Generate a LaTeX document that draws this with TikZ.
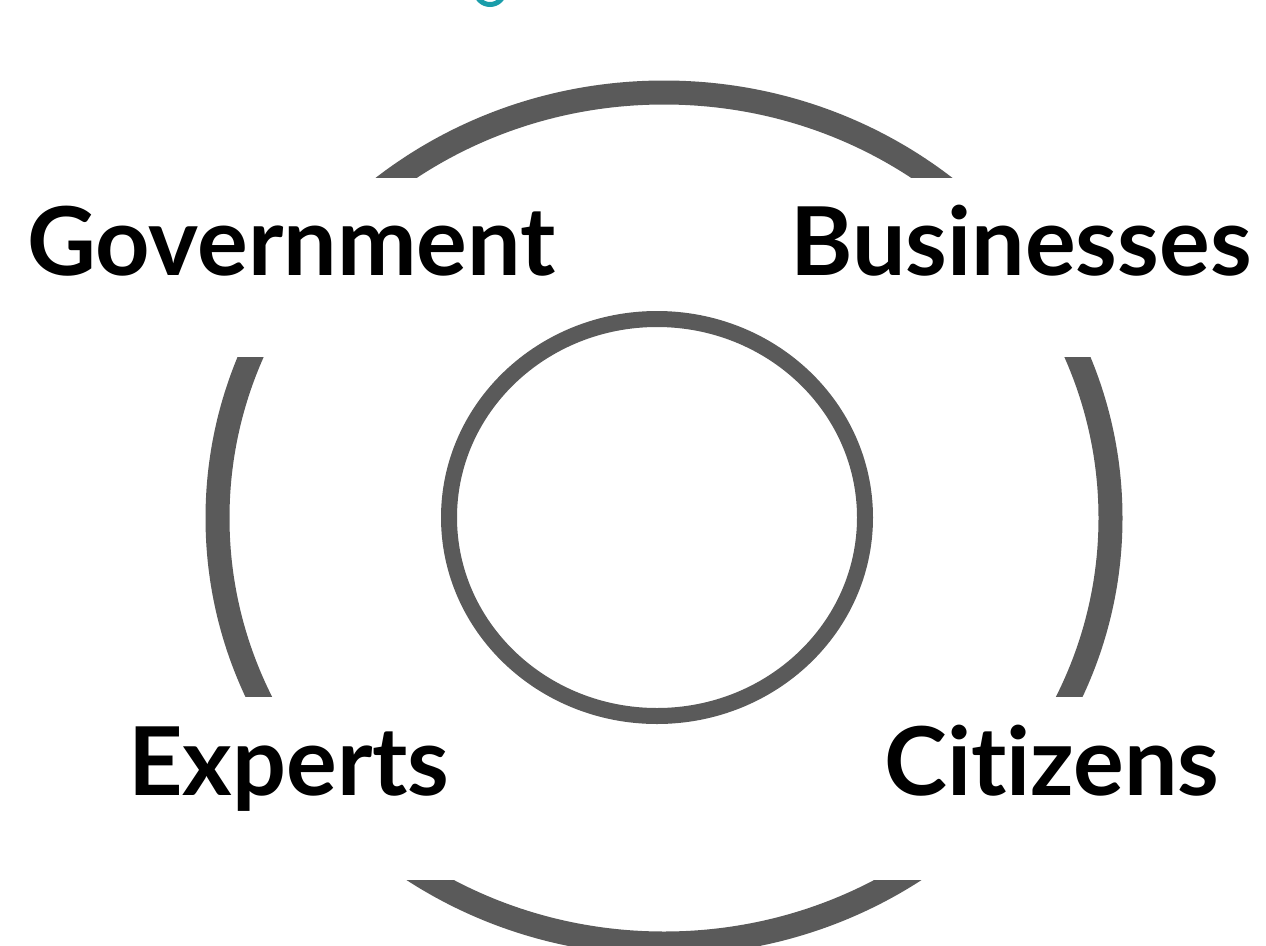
\documentclass[tikz,border=0pt]{standalone}
\usepackage{fontspec}
\setmainfont{Lato}[Ligatures={NoCommon}]
\definecolor{ringgray}{HTML}{5A5A5A}
\definecolor{titleteal}{HTML}{1A9DAA}
\tikzset{
  outerring/.style={draw=ringgray, line width=24pt},
  innerring/.style={draw=ringgray, line width=16pt},
  cutband/.style={fill=white, draw=none},
  label/.style={anchor=base west, inner sep=0pt, text=black, font=\fontsize{95}{100}\selectfont\bfseries}
}
\begin{document}
\begin{tikzpicture}[x=1pt,y=-1pt]
\useasboundingbox (0,0) rectangle (1266,945);
\begin{scope}
\clip (0,0) rectangle (1266,945);
\draw[outerring] (664,518) ellipse [x radius=446.5, y radius=425.5];
\fill[cutband] (0,178) rectangle (1266,357);
\fill[cutband] (0,697) rectangle (1266,880);
\draw[innerring] (657,517.5) ellipse [x radius=208, y radius=198.5];
\draw[titleteal, line width=5pt] (490,-10) circle [radius=14.5];
\end{scope}
\node[label] (gov) at (27,275) {Government};
\node[label] (bus) at (790,275) {Businesses};
\node[label] (exp) at (128,795) {Experts};
\node[label] (cit) at (884,795) {Cit\kern0pt izens};
\end{tikzpicture}
\end{document}
